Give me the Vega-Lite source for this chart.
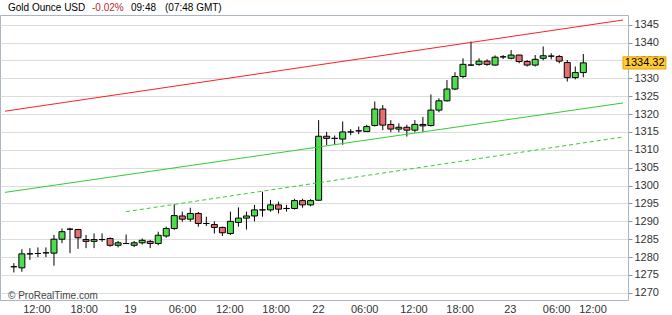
{
  "$schema": "https://vega.github.io/schema/vega-lite/v6.json",
  "width": 628,
  "height": 285,
  "autosize": "none",
  "padding": {"left": 0, "top": 15, "right": 44, "bottom": 15},
  "background": "white",
  "config": {
    "view": {"stroke": "#a9b6c2", "strokeWidth": 1},
    "font": "Liberation Sans",
    "axis": {"labelFont": "Liberation Sans", "labelFontSize": 11, "labelColor": "#333333", "zindex": 0, "labelOverlap": false},
    "axisY": {"labelOverlap": false, "format": "d", "tickCount": 16}
  },
  "datasets": {
    "candles": [
      {"i": 0, "o": 1277.3, "h": 1278.3, "l": 1275.7, "c": 1277.3},
      {"i": 1, "o": 1277.0, "h": 1282.2, "l": 1275.9, "c": 1280.9},
      {"i": 2, "o": 1280.9, "h": 1282.5, "l": 1279.2, "c": 1280.9},
      {"i": 3, "o": 1281.0, "h": 1282.7, "l": 1280.0, "c": 1281.0},
      {"i": 4, "o": 1281.2, "h": 1282.7, "l": 1280.0, "c": 1281.2},
      {"i": 5, "o": 1281.1, "h": 1286.2, "l": 1277.6, "c": 1285.0},
      {"i": 6, "o": 1285.0, "h": 1288.0, "l": 1283.9, "c": 1287.1},
      {"i": 7, "o": 1287.8, "h": 1288.2, "l": 1281.1, "c": 1287.8},
      {"i": 8, "o": 1287.7, "h": 1287.9, "l": 1282.3, "c": 1285.4},
      {"i": 9, "o": 1284.9, "h": 1286.2, "l": 1282.5, "c": 1284.4},
      {"i": 10, "o": 1284.4, "h": 1286.6, "l": 1282.5, "c": 1284.9},
      {"i": 11, "o": 1284.9, "h": 1286.6, "l": 1284.3, "c": 1284.9},
      {"i": 12, "o": 1285.2, "h": 1285.5, "l": 1282.9, "c": 1283.3},
      {"i": 13, "o": 1283.3, "h": 1284.5, "l": 1282.7, "c": 1284.0},
      {"i": 14, "o": 1283.8, "h": 1286.3, "l": 1283.8, "c": 1283.8},
      {"i": 15, "o": 1283.3, "h": 1284.5, "l": 1282.8, "c": 1284.0},
      {"i": 16, "o": 1284.0, "h": 1285.2, "l": 1283.5, "c": 1284.7},
      {"i": 17, "o": 1284.4, "h": 1284.8, "l": 1282.5, "c": 1283.8},
      {"i": 18, "o": 1283.8, "h": 1287.1, "l": 1283.3, "c": 1286.1},
      {"i": 19, "o": 1285.9, "h": 1288.5, "l": 1285.4, "c": 1288.0},
      {"i": 20, "o": 1288.0, "h": 1294.8, "l": 1287.6, "c": 1291.6},
      {"i": 21, "o": 1291.5, "h": 1292.7, "l": 1289.9, "c": 1290.6},
      {"i": 22, "o": 1290.6, "h": 1293.8, "l": 1289.9, "c": 1292.2},
      {"i": 23, "o": 1292.2, "h": 1292.6, "l": 1288.5, "c": 1289.4},
      {"i": 24, "o": 1289.4, "h": 1291.3, "l": 1288.7, "c": 1289.4},
      {"i": 25, "o": 1289.1, "h": 1290.0, "l": 1286.6, "c": 1288.3},
      {"i": 26, "o": 1288.3, "h": 1288.5, "l": 1285.9, "c": 1286.8},
      {"i": 27, "o": 1286.6, "h": 1292.7, "l": 1286.2, "c": 1290.0},
      {"i": 28, "o": 1289.7, "h": 1293.9, "l": 1288.5, "c": 1290.9},
      {"i": 29, "o": 1290.9, "h": 1292.7, "l": 1287.7, "c": 1291.5},
      {"i": 30, "o": 1291.5, "h": 1294.6, "l": 1290.0, "c": 1293.2},
      {"i": 31, "o": 1293.2, "h": 1298.3, "l": 1291.3, "c": 1293.2},
      {"i": 32, "o": 1293.2, "h": 1296.0, "l": 1292.7, "c": 1294.6},
      {"i": 33, "o": 1294.6, "h": 1295.5, "l": 1292.2, "c": 1293.4},
      {"i": 34, "o": 1293.6, "h": 1294.6, "l": 1292.7, "c": 1293.6},
      {"i": 35, "o": 1293.6, "h": 1296.3, "l": 1293.3, "c": 1295.8},
      {"i": 36, "o": 1295.8, "h": 1296.3, "l": 1293.8, "c": 1294.6},
      {"i": 37, "o": 1294.6, "h": 1296.2, "l": 1294.2, "c": 1295.8},
      {"i": 38, "o": 1295.9, "h": 1318.3, "l": 1295.7, "c": 1313.8},
      {"i": 39, "o": 1313.8, "h": 1315.0, "l": 1311.3, "c": 1313.2},
      {"i": 40, "o": 1313.2, "h": 1314.0, "l": 1311.4, "c": 1313.2},
      {"i": 41, "o": 1313.0, "h": 1317.9, "l": 1311.4, "c": 1315.0},
      {"i": 42, "o": 1315.0, "h": 1315.8, "l": 1314.1, "c": 1315.0},
      {"i": 43, "o": 1315.3, "h": 1316.5, "l": 1314.4, "c": 1315.3},
      {"i": 44, "o": 1315.1, "h": 1317.0, "l": 1315.0, "c": 1316.5},
      {"i": 45, "o": 1316.8, "h": 1323.5, "l": 1316.5, "c": 1321.4},
      {"i": 46, "o": 1321.4, "h": 1322.5, "l": 1315.5, "c": 1316.9},
      {"i": 47, "o": 1317.1, "h": 1318.3, "l": 1314.9, "c": 1315.8},
      {"i": 48, "o": 1315.8, "h": 1317.4, "l": 1314.9, "c": 1316.3},
      {"i": 49, "o": 1316.3, "h": 1317.0, "l": 1313.7, "c": 1315.5},
      {"i": 50, "o": 1315.5, "h": 1318.3, "l": 1314.9, "c": 1317.1},
      {"i": 51, "o": 1317.1, "h": 1319.2, "l": 1315.0, "c": 1316.7},
      {"i": 52, "o": 1316.8, "h": 1325.5, "l": 1316.5, "c": 1321.1},
      {"i": 53, "o": 1321.1, "h": 1324.4, "l": 1320.5, "c": 1323.7},
      {"i": 54, "o": 1323.7, "h": 1329.5, "l": 1323.5, "c": 1327.0},
      {"i": 55, "o": 1327.0, "h": 1331.7, "l": 1326.7, "c": 1330.5},
      {"i": 56, "o": 1330.5, "h": 1335.6, "l": 1330.0, "c": 1333.9},
      {"i": 57, "o": 1333.7, "h": 1340.3, "l": 1333.5, "c": 1333.7},
      {"i": 58, "o": 1333.9, "h": 1335.6, "l": 1333.5, "c": 1334.8},
      {"i": 59, "o": 1334.8, "h": 1335.3, "l": 1333.5, "c": 1333.9},
      {"i": 60, "o": 1333.7, "h": 1336.4, "l": 1333.5, "c": 1335.9},
      {"i": 61, "o": 1336.0, "h": 1336.5, "l": 1335.4, "c": 1336.0},
      {"i": 62, "o": 1335.6, "h": 1337.9, "l": 1335.3, "c": 1336.5},
      {"i": 63, "o": 1336.5, "h": 1336.6, "l": 1334.2, "c": 1334.7},
      {"i": 64, "o": 1334.7, "h": 1335.1, "l": 1333.3, "c": 1333.7},
      {"i": 65, "o": 1333.7, "h": 1336.5, "l": 1333.3, "c": 1335.3},
      {"i": 66, "o": 1335.6, "h": 1338.9, "l": 1335.0, "c": 1336.3},
      {"i": 67, "o": 1336.2, "h": 1337.0, "l": 1335.3, "c": 1336.2},
      {"i": 68, "o": 1336.1, "h": 1336.5, "l": 1334.2, "c": 1334.8},
      {"i": 69, "o": 1334.4, "h": 1335.1, "l": 1329.1, "c": 1330.2},
      {"i": 70, "o": 1330.2, "h": 1333.3, "l": 1329.7, "c": 1331.6},
      {"i": 71, "o": 1331.6, "h": 1336.8, "l": 1330.3, "c": 1334.32}
    ],
    "upper": [
      {"i": -1.104, "v": 1320.8},
      {"i": 75.95, "v": 1346.3}
    ],
    "lower": [
      {"i": -1.104, "v": 1298.1},
      {"i": 75.95, "v": 1323.1}
    ],
    "dashed": [
      {"i": 13.98, "v": 1292.7},
      {"i": 75.95, "v": 1313.6}
    ]
  },
  "layer": [
    {
      "data": {"name": "candles"},
      "mark": {"type": "rule", "color": "#000000", "strokeWidth": 1},
      "encoding": {
        "x": {
          "field": "i", "type": "quantitative", "title": null,
          "scale": {"domain": [-1.104, 75.95], "nice": false, "zero": false},
          "axis": {
            "orient": "bottom", "ticks": false, "domain": false, "grid": false, "labelPadding": 3, "labelOverlap": false,
            "values": [2.82, 8.71, 14.48, 20.98, 26.87, 32.64, 37.91, 43.68, 49.82, 55.58, 61.84, 67.61, 72.15],
            "labelExpr": "['12:00','18:00','19','06:00','12:00','18:00','22','06:00','12:00','18:00','23','06:00','12:00'][indexof([2.82, 8.71, 14.48, 20.98, 26.87, 32.64, 37.91, 43.68, 49.82, 55.58, 61.84, 67.61, 72.15], datum.value)]"
          }
        },
        "y": {
          "field": "l", "type": "quantitative", "title": null,
          "scale": {"domain": [1268.0, 1347.7], "nice": false, "zero": false},
          "axis": {
            "orient": "right", "domain": false, "grid": true, "gridColor": "#dcdcdc", "gridWidth": 1,
            "ticks": true, "tickSize": 4, "tickColor": "#8a96a0", "labelPadding": 2, "labelOverlap": false, "format": "d",
            "values": [1270, 1275, 1280, 1285, 1290, 1295, 1300, 1305, 1310, 1315, 1320, 1325, 1330, 1335, 1340, 1345]
          }
        },
        "y2": {"field": "h"}
      }
    },
    {
      "data": {"name": "candles"},
      "mark": {"type": "bar", "width": 6, "stroke": "#000000", "strokeWidth": 1},
      "encoding": {
        "x": {"field": "i", "type": "quantitative", "title": null, "scale": {"domain": [-1.104, 75.95], "nice": false, "zero": false}},
        "y": {"field": "o", "type": "quantitative", "title": null, "scale": {"domain": [1268.0, 1347.7], "nice": false, "zero": false},
          "axis": {
            "orient": "right", "domain": false, "grid": true, "gridColor": "#dcdcdc", "gridWidth": 1,
            "ticks": true, "tickSize": 4, "tickColor": "#8a96a0", "labelPadding": 2, "labelOverlap": false, "format": "d",
            "values": [1270, 1275, 1280, 1285, 1290, 1295, 1300, 1305, 1310, 1315, 1320, 1325, 1330, 1335, 1340, 1345]
          }},
        "y2": {"field": "c"},
        "color": {"condition": {"test": "datum.c >= datum.o", "value": "#4fdc4f"}, "value": "#e46f6f"}
      }
    },
    {
      "data": {"name": "upper"},
      "mark": {"type": "line", "strokeWidth": 1, "color": "#ff2020"},
      "encoding": {
        "x": {"field": "i", "type": "quantitative", "title": null, "scale": {"domain": [-1.104, 75.95], "nice": false, "zero": false}},
        "y": {"field": "v", "type": "quantitative", "title": null, "scale": {"domain": [1268.0, 1347.7], "nice": false, "zero": false}}
      }
    },
    {
      "data": {"name": "lower"},
      "mark": {"type": "line", "strokeWidth": 1, "color": "#33cc33"},
      "encoding": {
        "x": {"field": "i", "type": "quantitative", "title": null, "scale": {"domain": [-1.104, 75.95], "nice": false, "zero": false}},
        "y": {"field": "v", "type": "quantitative", "title": null, "scale": {"domain": [1268.0, 1347.7], "nice": false, "zero": false}}
      }
    },
    {
      "data": {"name": "dashed"},
      "mark": {"type": "line", "strokeWidth": 1, "color": "#33cc33", "strokeDash": [4, 3]},
      "encoding": {
        "x": {"field": "i", "type": "quantitative", "title": null, "scale": {"domain": [-1.104, 75.95], "nice": false, "zero": false}},
        "y": {"field": "v", "type": "quantitative", "title": null, "scale": {"domain": [1268.0, 1347.7], "nice": false, "zero": false}}
      }
    },
    {
      "data": {"values": [{"a": 1}]},
      "mark": {"type": "rect", "fill": "#ffcc33", "stroke": "#e8a200", "strokeWidth": 1, "clip": false},
      "encoding": {
        "x": {"datum": 75.95, "type": "quantitative", "scale": {"domain": [-1.104, 75.95], "nice": false, "zero": false}},
        "x2": {"datum": 81.3},
        "y": {"datum": 1336.0, "type": "quantitative", "scale": {"domain": [1268.0, 1347.7], "nice": false, "zero": false}},
        "y2": {"datum": 1332.6}
      }
    },
    {
      "data": {"values": [{"t": "1334.32"}]},
      "mark": {"type": "text", "font": "Liberation Sans", "fontSize": 11, "color": "#000000", "align": "center", "baseline": "middle", "clip": false},
      "encoding": {
        "x": {"datum": 78.65, "type": "quantitative", "scale": {"domain": [-1.104, 75.95], "nice": false, "zero": false}},
        "y": {"datum": 1334.32, "type": "quantitative", "scale": {"domain": [1268.0, 1347.7], "nice": false, "zero": false}},
        "text": {"field": "t"}
      }
    },
    {
      "data": {"values": [{"t": "Gold Ounce USD"}]},
      "mark": {"type": "text", "font": "Liberation Sans", "fontSize": 10, "align": "left", "baseline": "middle", "color": "#000000", "dx": 3, "clip": false},
      "encoding": {
        "x": {"datum": -1.104, "type": "quantitative", "scale": {"domain": [-1.104, 75.95], "nice": false, "zero": false}},
        "y": {"datum": 1349.7, "type": "quantitative", "scale": {"domain": [1268.0, 1347.7], "nice": false, "zero": false}},
        "text": {"field": "t"}
      }
    },
    {
      "data": {"values": [{"t": "-0.02%"}]},
      "mark": {"type": "text", "font": "Liberation Sans", "fontSize": 10, "align": "left", "baseline": "middle", "color": "#b03030", "dx": 87, "clip": false},
      "encoding": {
        "x": {"datum": -1.104, "type": "quantitative", "scale": {"domain": [-1.104, 75.95], "nice": false, "zero": false}},
        "y": {"datum": 1349.7, "type": "quantitative", "scale": {"domain": [1268.0, 1347.7], "nice": false, "zero": false}},
        "text": {"field": "t"}
      }
    },
    {
      "data": {"values": [{"t": "09:48"}]},
      "mark": {"type": "text", "font": "Liberation Sans", "fontSize": 10, "align": "left", "baseline": "middle", "color": "#000000", "dx": 126, "clip": false},
      "encoding": {
        "x": {"datum": -1.104, "type": "quantitative", "scale": {"domain": [-1.104, 75.95], "nice": false, "zero": false}},
        "y": {"datum": 1349.7, "type": "quantitative", "scale": {"domain": [1268.0, 1347.7], "nice": false, "zero": false}},
        "text": {"field": "t"}
      }
    },
    {
      "data": {"values": [{"t": "(07:48 GMT)"}]},
      "mark": {"type": "text", "font": "Liberation Sans", "fontSize": 10, "align": "left", "baseline": "middle", "color": "#000000", "dx": 160, "clip": false},
      "encoding": {
        "x": {"datum": -1.104, "type": "quantitative", "scale": {"domain": [-1.104, 75.95], "nice": false, "zero": false}},
        "y": {"datum": 1349.7, "type": "quantitative", "scale": {"domain": [1268.0, 1347.7], "nice": false, "zero": false}},
        "text": {"field": "t"}
      }
    },
    {
      "data": {"values": [{"t": "© ProRealTime.com"}]},
      "mark": {"type": "text", "font": "Liberation Sans", "fontSize": 10, "color": "#444444", "align": "left", "baseline": "middle", "dx": 3, "clip": false},
      "encoding": {
        "x": {"datum": -1.104, "type": "quantitative", "scale": {"domain": [-1.104, 75.95], "nice": false, "zero": false}},
        "y": {"datum": 1269.1, "type": "quantitative", "scale": {"domain": [1268.0, 1347.7], "nice": false, "zero": false}},
        "text": {"field": "t"}
      }
    }
  ]
}
